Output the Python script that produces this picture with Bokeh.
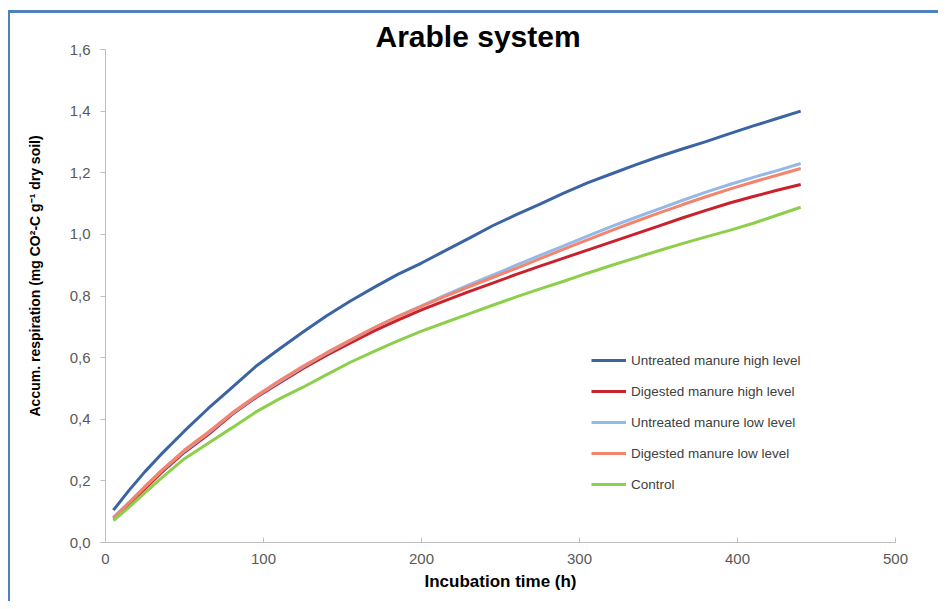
from bokeh.embed import file_html
from bokeh.models import (CustomJSTickFormatter, FixedTicker, Legend, LegendItem,
                          Range1d, Title)
from bokeh.plotting import figure
from bokeh.resources import INLINE

# Incubation time (h)
hours = [5, 15, 25, 35, 50, 65, 80, 95, 110, 125, 140, 155, 170, 185, 200, 215,
         230, 245, 260, 275, 290, 305, 320, 335, 350, 365, 380, 395, 410, 425, 440]

# Accumulated respiration (mg CO2-C g-1 dry soil)
untreated_high = [0.105, 0.170, 0.230, 0.285, 0.362, 0.435, 0.503, 0.571, 0.628, 0.683,
                  0.736, 0.784, 0.828, 0.870, 0.907, 0.947, 0.987, 1.028, 1.064, 1.098,
                  1.134, 1.167, 1.196, 1.225, 1.252, 1.277, 1.301, 1.327, 1.352, 1.376, 1.400]
digested_high = [0.078, 0.125, 0.175, 0.225, 0.293, 0.350, 0.415, 0.470, 0.518, 0.565,
                 0.608, 0.648, 0.687, 0.722, 0.755, 0.785, 0.814, 0.842, 0.870, 0.897,
                 0.923, 0.949, 0.975, 1.001, 1.027, 1.053, 1.078, 1.102, 1.123, 1.143, 1.162]
untreated_low = [0.082, 0.130, 0.180, 0.230, 0.297, 0.355, 0.418, 0.473, 0.522, 0.570,
                 0.614, 0.656, 0.697, 0.734, 0.768, 0.803, 0.836, 0.868, 0.900, 0.932,
                 0.963, 0.994, 1.025, 1.054, 1.082, 1.110, 1.137, 1.162, 1.185, 1.207, 1.230]
digested_low = [0.080, 0.130, 0.182, 0.232, 0.300, 0.358, 0.420, 0.475, 0.525, 0.572,
                0.616, 0.657, 0.697, 0.733, 0.766, 0.799, 0.830, 0.860, 0.890, 0.921,
                0.952, 0.982, 1.012, 1.041, 1.069, 1.096, 1.122, 1.147, 1.170, 1.192, 1.214]
control = [0.071, 0.115, 0.162, 0.207, 0.272, 0.322, 0.372, 0.423, 0.466, 0.504,
           0.545, 0.585, 0.620, 0.654, 0.686, 0.714, 0.742, 0.770, 0.797, 0.823,
           0.848, 0.874, 0.899, 0.923, 0.947, 0.970, 0.992, 1.013, 1.036, 1.062, 1.088]

series = [
    ("Untreated manure high level", untreated_high, "#3A64A2"),
    ("Digested manure high level", digested_high, "#C8232C"),
    ("Untreated manure low level", untreated_low, "#94B9E6"),
    ("Digested manure low level", digested_low, "#F4846E"),
    ("Control", control, "#8CCF4A"),
]

x_ticks = [0, 100, 200, 300, 400, 500]
y_ticks = [0.0, 0.2, 0.4, 0.6, 0.8, 1.0, 1.2, 1.4, 1.6]

FONT = "Liberation Sans"
AXIS_GREY = "#BFBFBF"
TEXT_GREY = "#595959"
FRAME_BLUE = "#4F81BD"

p = figure(width=938, height=601, output_backend="svg", toolbar_location=None,
           x_range=Range1d(0, 500), y_range=Range1d(0, 1.6),
           min_border_left=105, min_border_right=43, min_border_top=49, min_border_bottom=59)
# chart-area frame: only its top and left edges fall inside the picture
p.styles = {
    "background": (f"linear-gradient({FRAME_BLUE},{FRAME_BLUE}) 8px 10px / 930px 3px no-repeat, "
                   f"linear-gradient({FRAME_BLUE},{FRAME_BLUE}) 8px 10px / 2px 591px no-repeat, "
                   "#ffffff"),
}
p.outline_line_color = None
p.grid.visible = False
p.background_fill_color = "white"
p.border_fill_alpha = 0

p.add_layout(Title(text="Arable system", align="left", offset=270, standoff=-7,
                   text_font=FONT, text_font_size="30px", text_font_style="bold",
                   text_color="black"), "above")
p.add_layout(Title(text="Accum. respiration (mg CO²-C g⁻¹ dry soil)", align="left",
                   offset=126, standoff=48, text_font=FONT, text_font_size="14px",
                   text_font_style="bold", text_color="black"), "left")

legend_items = []
for name, values, colour in series:
    r = p.line(hours, values, line_color=colour, line_width=3)
    legend_items.append(LegendItem(label=name, renderers=[r]))

legend = Legend(items=legend_items, location=(486, 48), glyph_width=35, glyph_height=20,
                label_height=20, label_standoff=5, spacing=11, padding=10, margin=0,
                label_text_font=FONT, label_text_font_size="13.5px", label_text_color="#404040",
                border_line_color=None, background_fill_alpha=0)
p.add_layout(legend)

for ax in (p.xaxis[0], p.yaxis[0]):
    ax.axis_line_color = AXIS_GREY
    ax.major_tick_line_color = AXIS_GREY
    ax.minor_tick_line_color = None
    ax.major_label_text_font = FONT
    ax.major_label_text_font_size = "15px"
    ax.major_label_text_color = TEXT_GREY
    ax.axis_label_text_font = FONT
    ax.axis_label_text_font_style = "bold"
    ax.axis_label_text_color = "black"

p.xaxis.ticker = FixedTicker(ticks=x_ticks)
p.xaxis.major_tick_in = 5
p.xaxis.major_tick_out = 0
p.xaxis.major_label_standoff = 11
p.xaxis.axis_label = "Incubation time (h)"
p.xaxis.axis_label_text_font_size = "17px"
p.xaxis.axis_label_standoff = 5

p.yaxis.ticker = FixedTicker(ticks=y_ticks)
p.yaxis.formatter = CustomJSTickFormatter(code="return tick.toFixed(1).replace('.', ',');")
p.yaxis.major_tick_in = 0
p.yaxis.major_tick_out = 5
p.yaxis.major_label_standoff = 10

open("out.html", "w").write(file_html(p, INLINE))
